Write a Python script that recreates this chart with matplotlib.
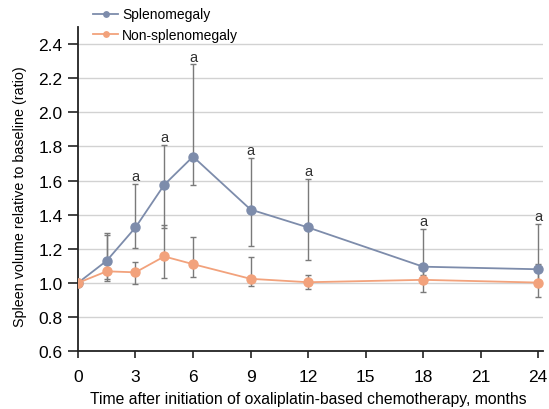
import matplotlib.pyplot as plt

plt.rcParams['font.family'] = ['Liberation Sans', 'DejaVu Sans']

# months after start of chemotherapy
months = [0, 1.5, 3, 4.5, 6, 9, 12, 18, 24]

# splenomegaly group: mean ratio and error bar limits
spl_mean = [1.0, 1.13, 1.325, 1.575, 1.74, 1.43, 1.325, 1.095, 1.08]
spl_low = [1.0, 1.025, 1.205, 1.32, 1.575, 1.215, 1.135, 1.045, 1.0]
spl_high = [1.0, 1.29, 1.58, 1.81, 2.28, 1.73, 1.61, 1.315, 1.345]

# non-splenomegaly group
non_mean = [1.0, 1.068, 1.062, 1.155, 1.11, 1.024, 1.004, 1.018, 1.002]
non_low = [1.0, 1.01, 0.995, 1.03, 1.035, 0.98, 0.963, 0.945, 0.92]
non_high = [1.0, 1.28, 1.12, 1.34, 1.267, 1.15, 1.045, 1.09, 1.11]

# significance marks
sig_months = [3, 4.5, 6, 9, 12, 18, 24]

xticks = [0, 3, 6, 9, 12, 15, 18, 21, 24]
yticks = [0.6, 0.8, 1.0, 1.2, 1.4, 1.6, 1.8, 2.0, 2.2, 2.4]

blue = '#7d8cab'
orange = '#f2a27c'
errc = '#7a7a7a'

fig = plt.figure(figsize=(5.49, 4.10), dpi=100)
ax = fig.add_axes([0.142, 0.141, 0.847, 0.791])

for y in yticks[1:]:
    ax.axhline(y, color='#d2d2d2', lw=1.0, zorder=0)

def draw(mean, low, high, color, label):
    err = [[m - l for m, l in zip(mean, low)], [h - m for m, h in zip(mean, high)]]
    ax.errorbar(months, mean, yerr=err, fmt='none', ecolor=errc, elinewidth=1.0,
                capsize=2.5, capthick=1.0, zorder=2)
    ax.plot(months, mean, color=color, lw=1.3, marker='o', ms=6.5,
            label=label, zorder=3)

draw(spl_mean, spl_low, spl_high, blue, 'Splenomegaly')
draw(non_mean, non_low, non_high, orange, 'Non-splenomegaly')

for m in sig_months:
    i = months.index(m)
    ax.text(m, spl_high[i] + 0.005, 'a', ha='center', va='bottom', fontsize=10.5, color='#333333')

ax.set_xlim(0, 24.25)
ax.set_ylim(0.6, 2.5)
ax.set_xticks(xticks)
ax.set_yticks(yticks)
ax.set_yticklabels([f'{v:.1f}' for v in yticks])
ax.tick_params(labelsize=12.5, width=1.2, color='#222222')
ax.tick_params(axis='y', length=7, pad=4)
ax.tick_params(axis='x', length=5, pad=8)
for s in ['top', 'right']:
    ax.spines[s].set_visible(False)
for s in ['left', 'bottom']:
    ax.spines[s].set_linewidth(1.3)
    ax.spines[s].set_color('#222222')

ax.set_xlabel('Time after initiation of oxaliplatin-based chemotherapy, months', fontsize=11.3)
ax.set_ylabel('Spleen volume relative to baseline (ratio)', fontsize=10.3)
ax.xaxis.set_label_coords(0.496, -0.122)
ax.yaxis.set_label_coords(-0.11, 0.48)

fig.legend(loc='upper left', bbox_to_anchor=(0.147, 1.01), frameon=False, fontsize=10,
           handlelength=1.8, handletextpad=0.3, labelspacing=0.5, markerscale=0.6)

fig.savefig('out.png', dpi=100)
